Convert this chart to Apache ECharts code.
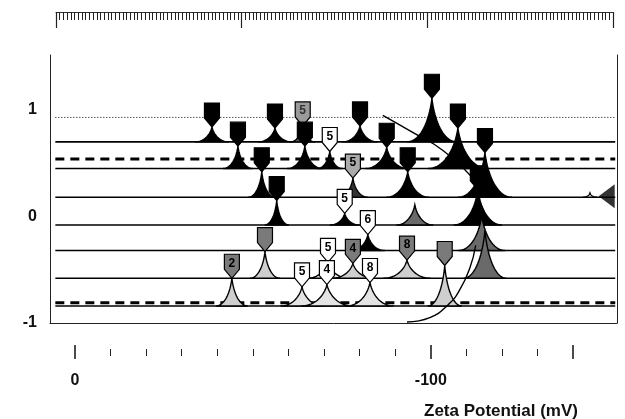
<!DOCTYPE html>
<html lang="en">
<head>
  <meta charset="UTF-8">
  <title>Zeta Potential</title>
  <script src="https://cdn.jsdelivr.net/npm/echarts@6/dist/echarts.min.js"></script>
  <style>
    html, body { margin: 0; padding: 0; background: #fff; }
    #chart { width: 625px; height: 419px; }
  </style>
</head>
<body>
<div id="chart"></div>
<script type="text/javascript">
  // baselines of the stacked traces (y units)
  var rowBase = [0.93, 0.70, 0.54, 0.45, 0.18, -0.08, -0.32, -0.58, -0.81, -0.84];

  // peaks: row index, centre (mV), apex (y units), half width (mV), kind, label
  var peakRow    = [1, 1, 1, 1, 1,  3, 3, 3, 3, 3,  4, 4, 4, 4, 4,  5, 5, 5, 5,  6, 6,  7, 7, 7, 7, 7,  9, 9, 9, 9, 9];
  var peakCenter = [-38.5, -56.2, -64.0, -80.1, -100.3,  -45.8, -64.6, -71.6, -87.6, -107.6,
                    -52.5, -78.1, -93.5, -115.2, -144.7,  -56.7, -75.8, -95.5, -113.2,
                    -82.3, -114.3,  -53.4, -71.1, -78.1, -93.3, -115.2,
                    -44.1, -63.8, -70.8, -82.9, -103.9];
  var peakApex   = [0.84, 0.83, 0.85, 0.85, 1.11,  0.66, 0.66, 0.61, 0.65, 0.83,
                    0.42, 0.36, 0.42, 0.60, 0.22,  0.15, 0.03, 0.11, 0.25,
                    -0.17, 0.01,  -0.33, -0.43, -0.44, -0.41, -0.13,
                    -0.58, -0.66, -0.64, -0.62, -0.46];
  var peakWidth  = [4.8, 4.8, 3.6, 5.0, 7.0,  4.2, 5.0, 3.6, 6.0, 8.4,
                    3.8, 4.2, 6.0, 7.6, 2.0,  3.4, 4.2, 5.2, 6.8,
                    4.8, 6.6,  4.2, 6.0, 6.0, 6.6, 6.0,
                    4.5, 6.0, 7.2, 6.6, 4.8];
  var peakKind   = ['B', 'B', 'G', 'B', 'B',  'B', 'B', 'K', 'B', 'B',
                    'B', 'H', 'B', 'B', 'N',  'B', 'K', 'S', 'B',
                    'K', 'S',  'D', 'L', 'D', 'D', 'S',
                    'D', 'L', 'L', 'L', 'D'];
  var peakLabel  = ['', '', '5', '', '',  '', '', '5', '', '',
                    '', '5', '', '', '',  '', '5', '', '',
                    '6', '',  '', '5', '4', '8', '',
                    '2', '5', '4', '8', ''];

  // stray curves and the side marker
  var upperCurve = [[-86.5, 0.95], [-94.9, 0.79], [-103.4, 0.62], [-111.5, 0.37]];
  var lowerCurve = [[-93.3, -0.99], [-99.7, -0.95], [-104.8, -0.83], [-108.1, -0.69], [-111.0, -0.48], [-112.6, -0.27]];
  var sideMarker = [[-149.4, 0.19]];

  var yLabels = [1, 0, -1];
  var xLabels = [0, -100];
  var xMajorTicks = [0, -100, -140];
  var xMinorTicks = [-10, -20, -30, -40, -50, -60, -70, -80, -90, -110, -120, -130];

  var kinds = {
    B: { fill: '#000', mark: '#000', text: '#000' },
    G: { fill: '#555', mark: '#9a9a9a', text: '#333' },
    K: { fill: '#000', mark: '#fff', text: '#000' },
    H: { fill: '#333', mark: '#aaa', text: '#000' },
    S: { fill: '#6a6a6a', mark: null },
    D: { fill: '#cfcfcf', mark: '#7a7a7a', text: '#000' },
    L: { fill: '#e4e4e4', mark: '#fff', text: '#000' },
    N: { fill: 'none', mark: null }
  };
  var rowStyle = ['dotted', 'solid', 'dashed', 'solid', 'solid', 'solid', 'solid', 'solid', 'dashed', 'solid'];

  var X_MIN = -152.3, X_MAX = 7.0, Y_MIN = -1, Y_MAX = 1.516;

  function bez(p0, p1, p2, p3, t) {
    var u = 1 - t;
    return [
      u*u*u*p0[0] + 3*u*u*t*p1[0] + 3*u*t*t*p2[0] + t*t*t*p3[0],
      u*u*u*p0[1] + 3*u*u*t*p1[1] + 3*u*t*t*p2[1] + t*t*t*p3[1]
    ];
  }

  function renderPeak(params, api) {
    var i = params.dataIndex;
    var c = api.value(0), a = api.value(1), w = api.value(2), b = api.value(3);
    var L = api.coord([c + w, b]), R = api.coord([c - w, b]), A = api.coord([c, a]);
    var k = kinds[peakKind[i]];
    var pts = [], t;
    var dxl = A[0] - L[0], dy = L[1] - A[1];
    for (t = 0; t <= 1.0001; t += 0.05) {
      pts.push(bez(L, [L[0] + 0.55*dxl, L[1]], [A[0] - 0.1*dxl, A[1] + 0.5*dy], A, t));
    }
    var dxr = R[0] - A[0];
    for (t = 0.05; t <= 1.0001; t += 0.05) {
      pts.push(bez(A, [A[0] + 0.1*dxr, A[1] + 0.5*dy], [R[0] - 0.55*dxr, R[1]], R, t));
    }
    var children = [{
      type: k.fill === 'none' ? 'polyline' : 'polygon',
      shape: { points: pts },
      style: { fill: k.fill === 'none' ? null : k.fill, stroke: '#000', lineWidth: 1.4 }
    }];
    if (k.mark) {
      var x = A[0], y = A[1];
      children.push({
        type: 'polygon',
        shape: { points: [[x - 7.5, y - 24], [x + 7.5, y - 24], [x + 7.5, y - 9], [x, y], [x - 7.5, y - 9]] },
        style: { fill: k.mark, stroke: '#000', lineWidth: 1.2 }
      });
      if (peakLabel[i]) {
        children.push({
          type: 'text',
          style: {
            text: peakLabel[i], x: x, y: y - 15,
            fill: k.text, font: 'bold 12px "Liberation Sans"',
            align: 'center', verticalAlign: 'middle',
            textAlign: 'center', textVerticalAlign: 'middle'
          }
        });
      }
    }
    return { type: 'group', children: children };
  }

  var series = [];
  rowBase.forEach(function (b, r) {
    var st = rowStyle[r];
    series.push({
      type: 'line', xAxisIndex: 0, yAxisIndex: 0,
      data: [[X_MAX - 1.5, b], [X_MIN + 0.5, b]],
      symbol: 'none', silent: true,
      lineStyle: {
        color: '#000',
        width: st === 'dashed' ? 3 : (st === 'dotted' ? 1 : 1.6),
        type: st === 'dashed' ? [9, 6] : (st === 'dotted' ? [1, 2] : 'solid')
      },
      z: 2
    });
  });

  series.push({
    type: 'custom', xAxisIndex: 0, yAxisIndex: 0, clip: true, z: 3,
    data: peakCenter.map(function (c, i) {
      return [c, peakApex[i], peakWidth[i], rowBase[peakRow[i]]];
    }),
    renderItem: renderPeak
  });

  series.push({
    type: 'line', data: upperCurve, smooth: true, symbol: 'none', z: 4,
    lineStyle: { color: '#000', width: 1.4 }
  });
  series.push({
    type: 'line', data: lowerCurve, smooth: true, symbol: 'none', z: 4,
    lineStyle: { color: '#000', width: 1.4 }
  });
  series.push({
    type: 'scatter', data: sideMarker, symbol: 'triangle', symbolRotate: 90,
    symbolSize: [24, 16], itemStyle: { color: '#000' }, z: 5
  });

  var font = '"Liberation Sans", Arial, sans-serif';
  var noLine = { show: false, onZero: false };
  var chart = echarts.init(document.getElementById('chart'));
  chart.setOption({
    animation: false,
    backgroundColor: '#fff',
    title: {
      text: 'Zeta Potential (mV)', left: 419, top: 398,
      textStyle: { fontFamily: font, fontSize: 17, fontWeight: 'bold', color: '#111' }
    },
    grid: [
      { left: 50, right: 8, top: 55, bottom: 96, outerBoundsMode: 'none', containLabel: false },
      { left: 56, right: 12, top: 11, height: 1, outerBoundsMode: 'none', containLabel: false }
    ],
    xAxis: [
      {
        gridIndex: 0, type: 'value', position: 'bottom', inverse: true, min: X_MIN, max: X_MAX,
        axisLine: { show: true, onZero: false, lineStyle: { color: '#222', width: 1 } },
        axisTick: { show: false }, axisLabel: { show: false }, splitLine: { show: false }
      },
      {
        gridIndex: 0, type: 'value', position: 'bottom', inverse: true, min: X_MIN, max: X_MAX, offset: 26,
        axisLine: noLine,
        axisTick: { show: true, customValues: xMinorTicks, length: 7, lineStyle: { color: '#222', width: 1 } },
        axisLabel: { show: false }, splitLine: { show: false }
      },
      {
        gridIndex: 0, type: 'value', position: 'bottom', inverse: true, min: X_MIN, max: X_MAX, offset: 22,
        axisLine: noLine,
        axisTick: { show: true, customValues: xMajorTicks, length: 14, lineStyle: { color: '#111', width: 1.5 } },
        axisLabel: {
          show: true, customValues: xLabels, margin: 28,
          fontFamily: font, fontSize: 16, fontWeight: 'bold', color: '#111'
        },
        splitLine: { show: false }
      },
      {
        gridIndex: 1, type: 'value', position: 'bottom', min: 0, max: 150, interval: 50,
        axisLine: { show: true, onZero: false, lineStyle: { color: '#333', width: 1 } },
        axisTick: { show: true, length: 16, lineStyle: { color: '#222', width: 1.2 } },
        minorTick: { show: true, splitNumber: 50, length: 8, lineStyle: { color: '#222', width: 1 } },
        axisLabel: { show: false }, splitLine: { show: false }
      }
    ],
    yAxis: [
      {
        gridIndex: 0, type: 'value', position: 'left', min: Y_MIN, max: Y_MAX,
        axisLine: { show: true, onZero: false, lineStyle: { color: '#222', width: 1 } },
        axisTick: { show: false },
        axisLabel: {
          show: true, customValues: yLabels, margin: 13,
          fontFamily: font, fontSize: 16, fontWeight: 'bold', color: '#111'
        },
        splitLine: { show: false }
      },
      {
        gridIndex: 0, type: 'value', position: 'right', min: Y_MIN, max: Y_MAX,
        axisLine: { show: true, onZero: false, lineStyle: { color: '#222', width: 1 } },
        axisTick: { show: false }, axisLabel: { show: false }, splitLine: { show: false }
      },
      {
        gridIndex: 1, type: 'value', show: false, min: 0, max: 1
      }
    ],
    series: series
  });
</script>
</body>
</html>
